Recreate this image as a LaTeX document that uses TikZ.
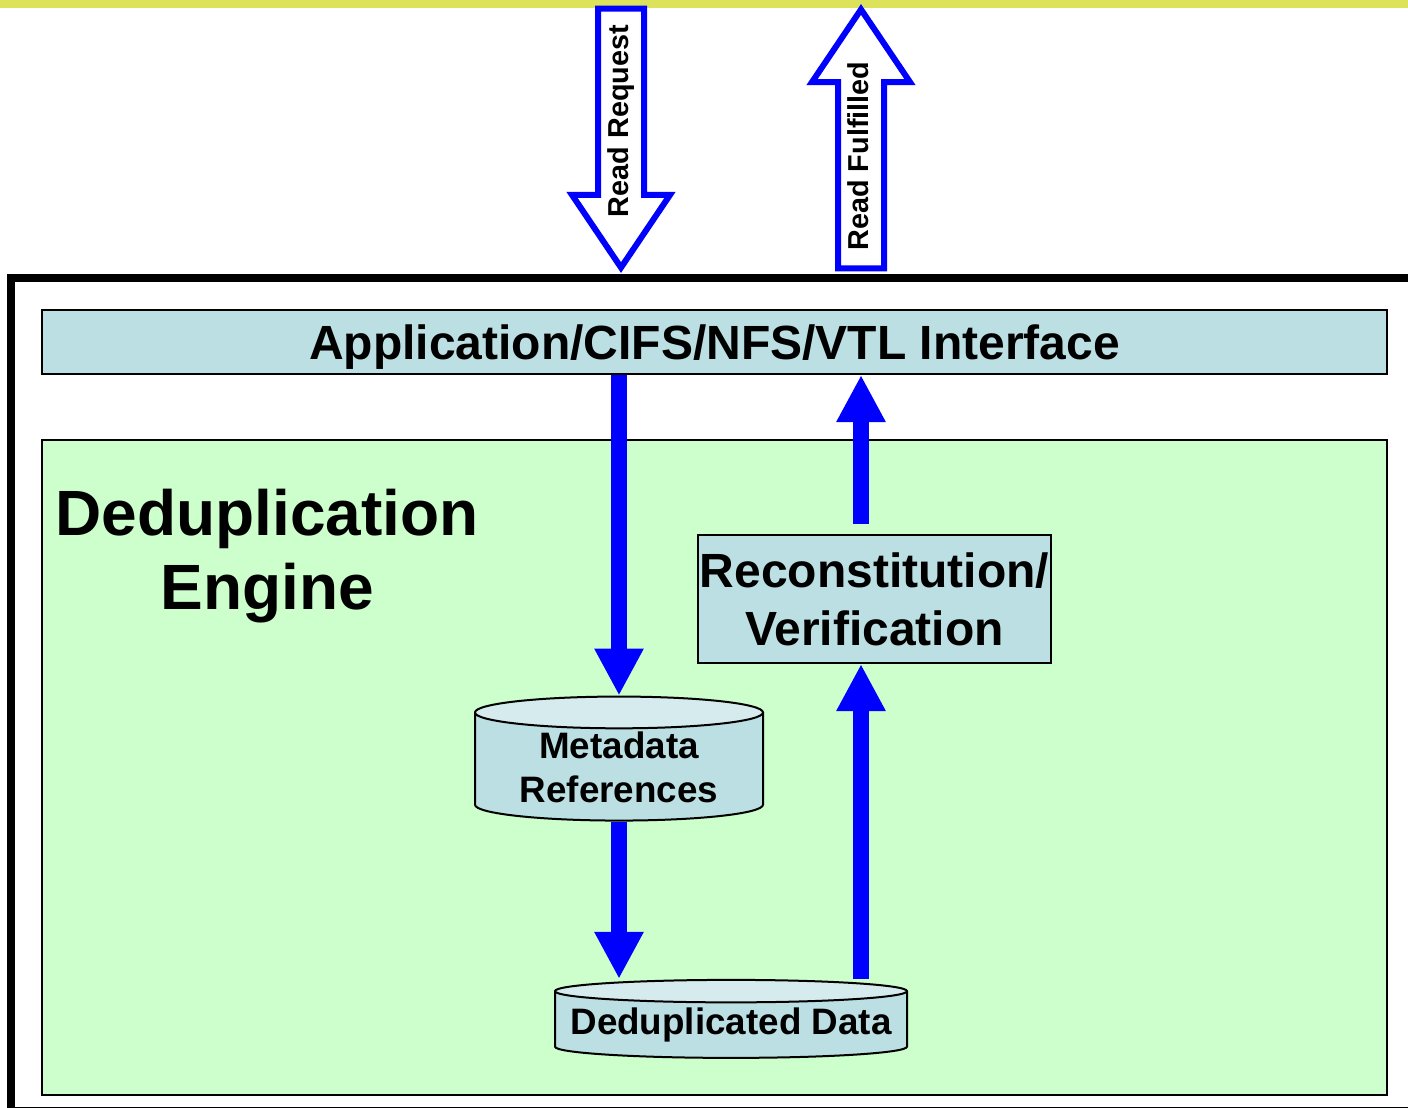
\documentclass[tikz,border=0pt]{standalone}
\usepackage{fontspec}
\setmainfont{Liberation Sans}
\usepackage{tikz}
\usetikzlibrary{positioning,arrows.meta,shapes.geometric,shapes.arrows}
\definecolor{flowblue}{HTML}{0000FF}
\definecolor{ifaceblue}{HTML}{BBDFE2}
\definecolor{captop}{HTML}{D6EBEE}
\definecolor{enginegreen}{HTML}{CCFFCC}
\definecolor{railyellow}{HTML}{DCE35A}
\newcommand{\bigbf}[2]{\fontsize{#1}{#2}\selectfont\bfseries}
\tikzset{
  panel/.style={rectangle, draw=black, line width=1pt, fill=#1,
                align=center, inner sep=0pt},
  store/.style={cylinder, shape border rotate=90, aspect=#1, draw=black,
                line width=1pt, cylinder uses custom fill,
                cylinder body fill=ifaceblue, cylinder end fill=captop,
                align=center, inner sep=0pt, font=\bigbf{18.4}{22}},
  flow/.style={-{Triangle[length=23.5pt,width=23pt]}, line width=8pt, draw=flowblue},
  hollow/.style={single arrow, draw=flowblue, fill=white, line width=3pt,
                 rotate=90, minimum height=129.5pt, text height=10.5pt,
                 text depth=3pt, inner ysep=3.25pt, inner xsep=0pt,
                 single arrow head extend=13pt, single arrow tip angle=68,
                 font=\bigbf{14.4}{17}},
}

\begin{document}
\begin{tikzpicture}[x=0.5pt,y=-0.5pt]
  \useasboundingbox (0,0) rectangle (1408,1108);
  \clip (0,0) rectangle (1408,1108);
  \fill[railyellow] (0,0) rectangle (1408,8);
  \draw[line width=4pt] (11,278) rectangle (1420,1111);

  \node[panel=ifaceblue, minimum width=672.5pt, minimum height=32pt, text depth=0pt,
        font=\bigbf{24}{29}] (iface) at (714.5,342) {Application/CIFS/NFS/VTL Interface};
  \node[panel=enginegreen, below=32pt of iface, minimum width=672.5pt,
        minimum height=327.5pt] (engine) {};
  \node[font=\bigbf{32}{37}, align=center] (title) at (267,556) {Deduplication\\Engine};
  \node[panel=ifaceblue, minimum width=176.5pt, minimum height=64pt,
        font=\bigbf{24}{29}] (recon) at (874.5,599) {Reconstitution/\\Verification};
  \node[store=0.16, minimum width=144pt, minimum height=62pt] (meta) at (619,767) {Metadata\\References};
  \node[store=0.07, minimum width=176pt, minimum height=39pt] (dedup) at (731,1025) {Deduplicated Data};

  \node[hollow, shape border rotate=180] (request) at (621,121) {Read Request};
  \node[hollow] (fulfil) at (861,156) {Read Fulfilled};

  \draw[flow] (iface.south -| meta.north) -- (meta.north);
  \draw[flow] (meta.south) -- (meta.south |- dedup.north);
  \draw[flow] (dedup.north -| fulfil.tip) -- (recon.south -| fulfil.tip);
  \draw[flow, shorten <=5pt] (recon.north -| fulfil.tip) -- (iface.south -| fulfil.tip);
\end{tikzpicture}
\end{document}
